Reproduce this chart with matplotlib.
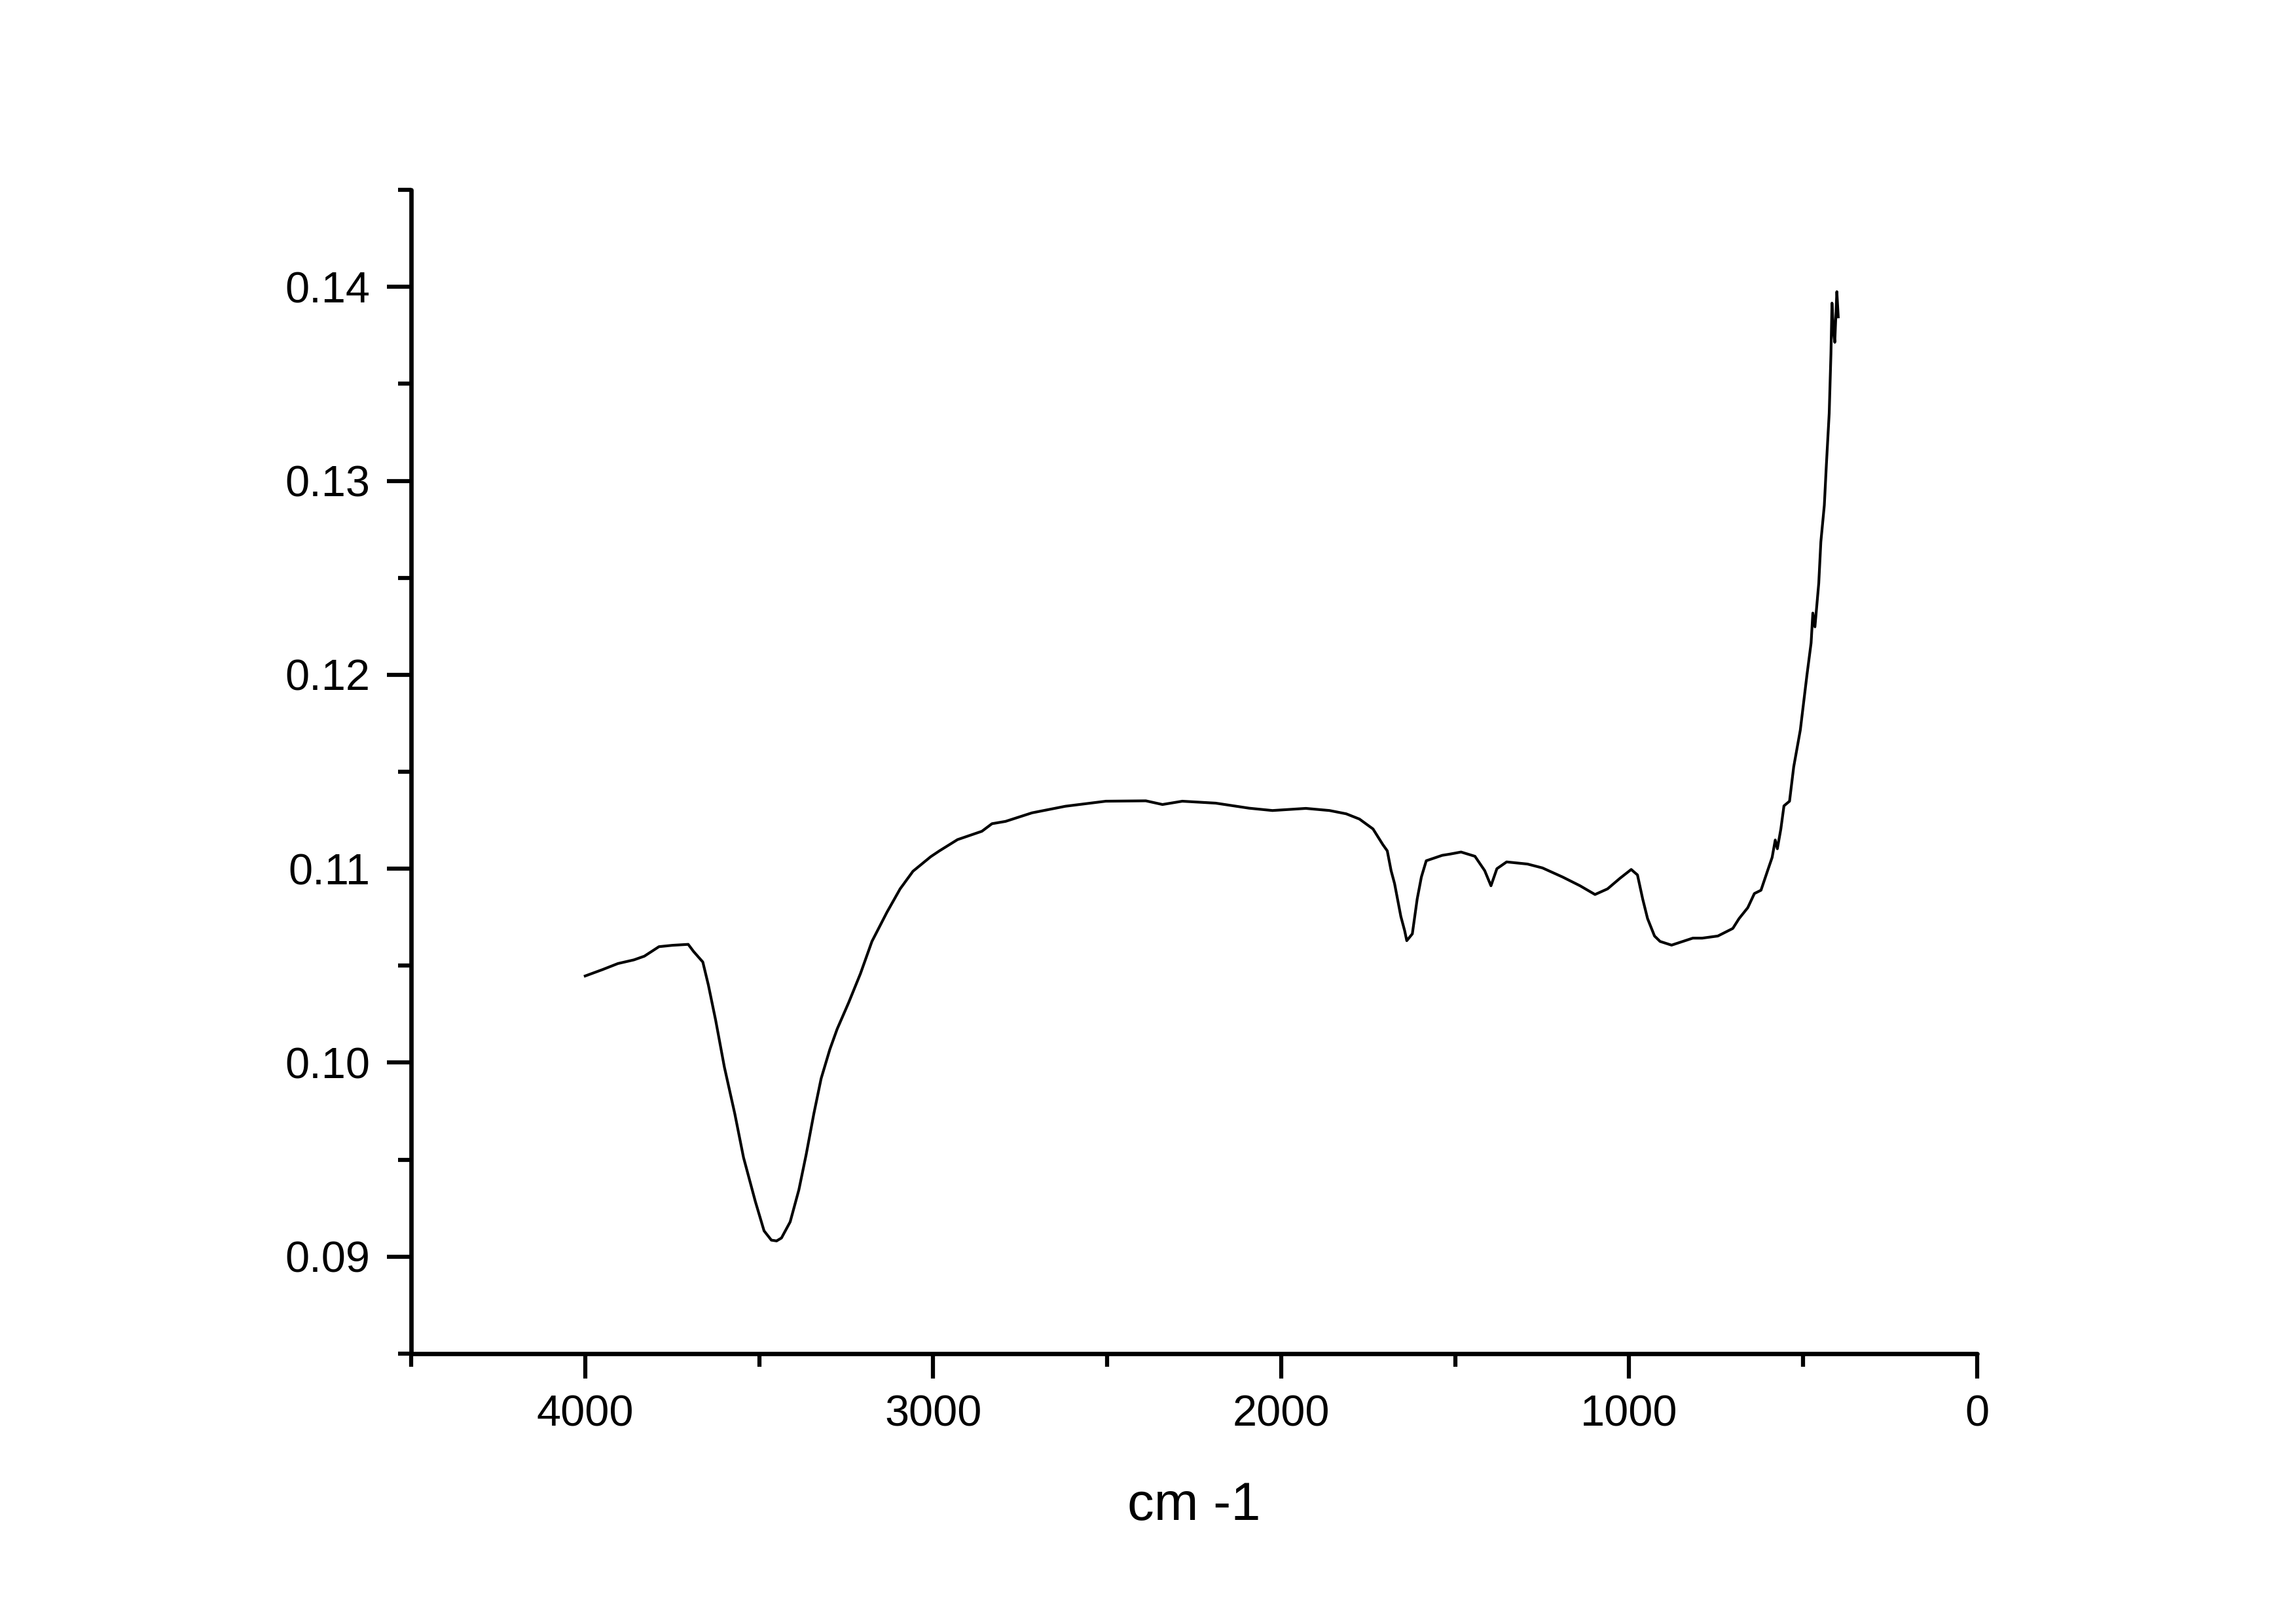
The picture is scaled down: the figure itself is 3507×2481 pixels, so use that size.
import matplotlib
matplotlib.use("Agg")
import matplotlib.pyplot as plt
from matplotlib.ticker import MultipleLocator, FormatStrFormatter

# FTIR spectrum (wavenumber cm-1, absorbance)
wavenumber = [4000, 3950, 3906, 3860, 3830, 3788, 3750, 3704, 3688, 3662,
              3646, 3625, 3600, 3570, 3545, 3511, 3486, 3465, 3450, 3436,
              3411, 3386, 3365, 3343, 3322, 3297, 3276, 3243, 3209, 3176,
              3133, 3095, 3058, 3007, 2982, 2930, 2860, 2831, 2792, 2716,
              2620, 2504, 2389, 2341, 2284, 2188, 2092, 2025, 1929, 1861,
              1813, 1775, 1736, 1708, 1695, 1684, 1674, 1656, 1645, 1639,
              1623, 1609, 1597, 1583, 1537, 1516, 1483, 1443, 1415, 1397,
              1380, 1352, 1292, 1249, 1191, 1141, 1098, 1062, 1026, 994,
              976, 961, 947, 927, 911, 878, 817, 790, 745, 702,
              684, 659, 640, 621, 602, 589, 580, 574, 564, 555,
              539, 527, 508, 489, 477, 472, 466, 455, 449, 439,
              433, 425, 420, 417, 413, 409, 403, 399]
absorbance = [0.10447, 0.10480, 0.10511, 0.10530, 0.10549, 0.10598, 0.10605, 0.10610, 0.10572, 0.10519,
              0.10400, 0.10218, 0.09977, 0.09736, 0.09511, 0.09284, 0.09133, 0.09085, 0.09081, 0.09096,
              0.09179, 0.09344, 0.09526, 0.09736, 0.09918, 0.10068, 0.10173, 0.10309, 0.10459, 0.10625,
              0.10775, 0.10896, 0.10987, 0.11062, 0.11092, 0.11150, 0.11193, 0.11232, 0.11244, 0.11288,
              0.11322, 0.11348, 0.11350, 0.11331, 0.11348, 0.11338, 0.11312, 0.11300, 0.11311, 0.11300,
              0.11283, 0.11256, 0.11205, 0.11125, 0.11092, 0.10990, 0.10923, 0.10754, 0.10680, 0.10629,
              0.10664, 0.10844, 0.10957, 0.11041, 0.11069, 0.11075, 0.11086, 0.11064, 0.10990, 0.10912,
              0.11000, 0.11035, 0.11024, 0.11004, 0.10957, 0.10912, 0.10867, 0.10896, 0.10951, 0.10996,
              0.10968, 0.10844, 0.10743, 0.10653, 0.10625, 0.10606, 0.10642, 0.10642, 0.10653, 0.10692,
              0.10743, 0.10799, 0.10872, 0.10889, 0.10990, 0.11058, 0.11148, 0.11103, 0.11204, 0.11324,
              0.11348, 0.11525, 0.11715, 0.11998, 0.12164, 0.12318, 0.12247, 0.12472, 0.12685, 0.12874,
              0.13087, 0.13348, 0.13655, 0.13916, 0.13780, 0.13714, 0.13975, 0.13845]

plt.rcParams["font.family"] = ["Liberation Sans", "DejaVu Sans"]

fig = plt.figure(figsize=(11.69, 8.27), dpi=300)
ax = fig.add_axes([0.1791, 0.1665, 0.8611 - 0.1791, 0.8831 - 0.1665])

ax.plot(wavenumber, absorbance, color="black", linewidth=1.0)

ax.set_xlim(4500, 0)
ax.set_ylim(0.085, 0.145)
ax.xaxis.set_major_locator(MultipleLocator(1000))
ax.xaxis.set_minor_locator(MultipleLocator(500))
ax.yaxis.set_major_locator(MultipleLocator(0.01))
ax.yaxis.set_minor_locator(MultipleLocator(0.005))
ax.yaxis.set_major_formatter(FormatStrFormatter("%.2f"))

for side in ["top", "right"]:
    ax.spines[side].set_visible(False)
for side in ["left", "bottom"]:
    ax.spines[side].set_linewidth(1.6)
    ax.spines[side].set_capstyle("round")

ax.tick_params(which="major", direction="out", length=9, width=1.5, labelsize=16, pad=6)
ax.tick_params(which="minor", direction="out", length=4.8, width=1.5)

ax.set_xlabel("cm -1", fontsize=19.5, labelpad=17)

fig.savefig("out.png", dpi=300)
